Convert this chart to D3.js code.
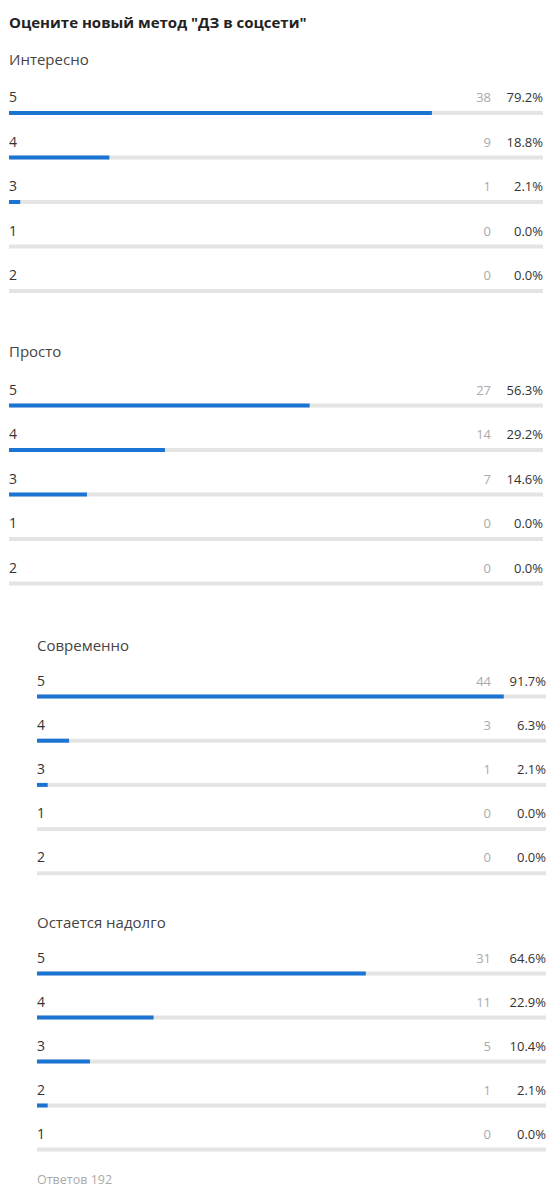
<!DOCTYPE html>
<html>
<head>
<meta charset="utf-8">
<script src="https://cdn.jsdelivr.net/npm/d3@7"></script>
<style>
	body { margin: 0; background: #fff; }
	svg { display: block; font-family: "Open Sans", sans-serif; }
</style>
</head>
<body>
<div id="chart"></div>
<script>
const title = 'Оцените новый метод "ДЗ в соцсети"';
const sectionNames = ["Интересно", "Просто", "Современно", "Остается надолго"];

const interestingGrades = ["5", "4", "3", "1", "2"];
const interestingCounts = [38, 9, 1, 0, 0];
const interestingShares = [79.2, 18.8, 2.1, 0, 0];

const simpleGrades = ["5", "4", "3", "1", "2"];
const simpleCounts = [27, 14, 7, 0, 0];
const simpleShares = [56.3, 29.2, 14.6, 0, 0];

const modernGrades = ["5", "4", "3", "1", "2"];
const modernCounts = [44, 3, 1, 0, 0];
const modernShares = [91.7, 6.3, 2.1, 0, 0];

const lastingGrades = ["5", "4", "3", "2", "1"];
const lastingCounts = [31, 11, 5, 1, 0];
const lastingShares = [64.6, 22.9, 10.4, 2.1, 0];

const answersLabel = "Ответов 192";

const width = 548,
			height = 1203;

// Where each block sits on the page (the lower two are indented)
const layout = [
	{left: 9, right: 543, head: 64.5, first: 113, step: 44.5, countGap: 52},
	{left: 9, right: 543, head: 357, first: 405.5, step: 44.5, countGap: 52},
	{left: 37, right: 546, head: 651, first: 696.5, step: 44.2, countGap: 55},
	{left: 37, right: 546, head: 928, first: 973.5, step: 44, countGap: 55}
];

const blocks = [
	{grades: interestingGrades, counts: interestingCounts, shares: interestingShares},
	{grades: simpleGrades, counts: simpleCounts, shares: simpleShares},
	{grades: modernGrades, counts: modernCounts, shares: modernShares},
	{grades: lastingGrades, counts: lastingCounts, shares: lastingShares}
];

const pct = d3.format(".1f");

const svg = d3.select("#chart")
	.append("svg")
		.attr("width", width)
		.attr("height", height);

svg.append("rect")
		.attr("width", width)
		.attr("height", height)
		.attr("fill", "#fff");

svg.append("text")
		.attr("x", 9)
		.attr("y", 28)
		.attr("fill", "#222")
		.style("font-size", "15px")
		.style("font-weight", "bold")
		.text(title);

blocks.forEach((block, i) => {
	const pos = layout[i];
	const rows = block.grades.map((g, j) => ({
		grade: g,
		count: block.counts[j],
		share: block.shares[j],
		index: j
	}));

	const x = d3.scaleLinear()
			.domain([0, 100])
			.range([pos.left, pos.right]);

	const y = d3.scalePoint()
			.domain(d3.range(rows.length))
			.range([pos.first, pos.first + pos.step * (rows.length - 1)]);

	const g = svg.append("g").attr("class", "block");

	// Block heading
	g.append("text")
			.attr("x", pos.left)
			.attr("y", pos.head)
			.attr("fill", "#444")
			.style("font-size", "15px")
			.text(sectionNames[i]);

	const row = g.selectAll(".row")
		.data(rows)
		.enter()
		.append("g")
			.attr("class", "row");

	// Grey track
	row.append("rect")
			.attr("x", x(0))
			.attr("y", d => y(d.index) - 2)
			.attr("width", x(100) - x(0))
			.attr("height", 4)
			.attr("fill", "#e4e4e4");

	// Blue bar
	row.append("rect")
			.attr("x", x(0))
			.attr("y", d => y(d.index) - 2)
			.attr("width", d => x(d.share) - x(0))
			.attr("height", 4)
			.attr("fill", "#1b74d1");

	row.append("text")
			.attr("x", x(0))
			.attr("y", d => y(d.index) - 11)
			.attr("fill", "#333")
			.style("font-size", "14px")
			.text(d => d.grade);

	row.append("text")
			.attr("x", x(100) - pos.countGap)
			.attr("y", d => y(d.index) - 11)
			.attr("fill", "#aaa")
			.style("font-size", "13px")
			.style("text-anchor", "end")
			.text(d => d.count);

	row.append("text")
			.attr("x", x(100))
			.attr("y", d => y(d.index) - 11)
			.attr("fill", "#333")
			.style("font-size", "13px")
			.style("text-anchor", "end")
			.text(d => pct(d.share) + "%");
});

svg.append("text")
		.attr("x", 37)
		.attr("y", 1184)
		.attr("fill", "#aaa")
		.style("font-size", "12.5px")
		.text(answersLabel);
</script>
</body>
</html>
